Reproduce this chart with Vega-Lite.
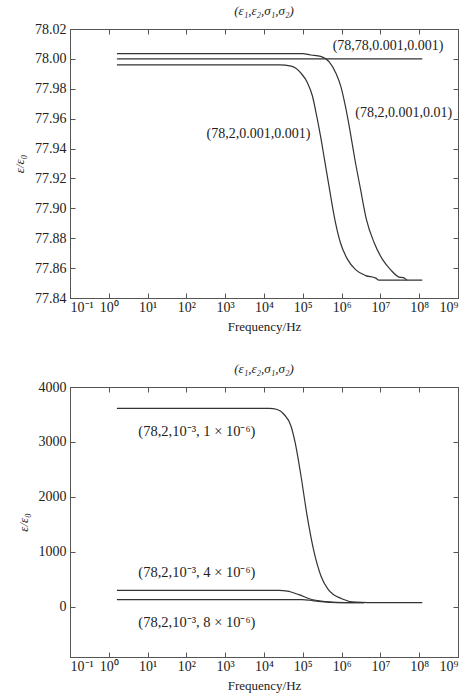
{
  "$schema": "https://vega.github.io/schema/vega-lite/v6.json",
  "background": "white",
  "padding": {"left": 13, "top": 4, "right": 8, "bottom": 4},
  "spacing": 28,
  "config": {
    "font": "Liberation Serif",
    "view": {"stroke": "#555", "strokeWidth": 1},
    "axis": {
      "grid": false,
      "domainColor": "#555",
      "tickColor": "#555",
      "tickSize": -5,
      "labelColor": "#222",
      "labelFont": "Liberation Serif",
      "labelFontSize": 14,
      "titleFont": "Liberation Serif",
      "titleFontWeight": "normal",
      "titleFontSize": 13,
      "titleColor": "#222",
      "labelPadding": 9,
      "titlePadding": 6
    },
    "axisBottom": {"labelPadding": 7},
    "title": {"font": "Liberation Serif", "fontWeight": "normal", "fontSize": 13, "fontStyle": "italic", "color": "#222", "offset": 4}
  },
  "datasets": {
    "top": [
      {"s": "A", "f": 1.62, "e": 78.0},
      {"s": "A", "f": 120000000, "e": 78.0},
      {"s": "B", "f": 1.62, "e": 78.0035},
      {"s": "B", "f": 100000, "e": 78.0035},
      {"s": "B", "f": 158000, "e": 78.0026},
      {"s": "B", "f": 288000, "e": 78.0017},
      {"s": "B", "f": 479000, "e": 77.998},
      {"s": "B", "f": 708000, "e": 77.9906},
      {"s": "B", "f": 955000, "e": 77.9816},
      {"s": "B", "f": 1260000, "e": 77.968},
      {"s": "B", "f": 1620000, "e": 77.953},
      {"s": "B", "f": 2190000, "e": 77.933},
      {"s": "B", "f": 3090000, "e": 77.9125},
      {"s": "B", "f": 4370000, "e": 77.8924},
      {"s": "B", "f": 6920000, "e": 77.877},
      {"s": "B", "f": 11200000, "e": 77.866},
      {"s": "B", "f": 18200000, "e": 77.859},
      {"s": "B", "f": 30200000, "e": 77.854},
      {"s": "B", "f": 40700000, "e": 77.8535},
      {"s": "B", "f": 49000000, "e": 77.852},
      {"s": "B", "f": 120000000, "e": 77.852},
      {"s": "C", "f": 1.62, "e": 77.996},
      {"s": "C", "f": 25000, "e": 77.996},
      {"s": "C", "f": 50000, "e": 77.9952},
      {"s": "C", "f": 89000, "e": 77.9906},
      {"s": "C", "f": 132000, "e": 77.984},
      {"s": "C", "f": 178000, "e": 77.975},
      {"s": "C", "f": 229000, "e": 77.9615},
      {"s": "C", "f": 288000, "e": 77.948},
      {"s": "C", "f": 363000, "e": 77.9326},
      {"s": "C", "f": 490000, "e": 77.9125},
      {"s": "C", "f": 676000, "e": 77.892},
      {"s": "C", "f": 933000, "e": 77.877},
      {"s": "C", "f": 1410000, "e": 77.866},
      {"s": "C", "f": 2290000, "e": 77.859},
      {"s": "C", "f": 4170000, "e": 77.855},
      {"s": "C", "f": 7590000, "e": 77.8533},
      {"s": "C", "f": 9120000, "e": 77.852},
      {"s": "C", "f": 49000000, "e": 77.852}
    ],
    "topLabels": [
      {"label": "(78,78,0.001,0.001)", "f": 15800000, "e": 78.0085},
      {"label": "(78,2,0.001,0.01)", "f": 40000000, "e": 77.9635},
      {"label": "(78,2,0.001,0.001)", "f": 7200, "e": 77.95}
    ],
    "bottom": [
      {"s": "A", "f": 1.62, "e": 3613},
      {"s": "A", "f": 13500, "e": 3613},
      {"s": "A", "f": 22000, "e": 3590},
      {"s": "A", "f": 33000, "e": 3500},
      {"s": "A", "f": 49000, "e": 3300},
      {"s": "A", "f": 63000, "e": 3000},
      {"s": "A", "f": 89000, "e": 2400},
      {"s": "A", "f": 129000, "e": 1660},
      {"s": "A", "f": 195000, "e": 1000},
      {"s": "A", "f": 295000, "e": 560},
      {"s": "A", "f": 450000, "e": 320},
      {"s": "A", "f": 1000000, "e": 150},
      {"s": "A", "f": 2300000, "e": 88},
      {"s": "A", "f": 10000000, "e": 78},
      {"s": "A", "f": 120000000, "e": 78},
      {"s": "B", "f": 1.62, "e": 300},
      {"s": "B", "f": 24500, "e": 300},
      {"s": "B", "f": 40000, "e": 288},
      {"s": "B", "f": 79000, "e": 224},
      {"s": "B", "f": 170000, "e": 135},
      {"s": "B", "f": 390000, "e": 97},
      {"s": "B", "f": 1260000, "e": 80},
      {"s": "B", "f": 3800000, "e": 78},
      {"s": "C", "f": 1.62, "e": 133},
      {"s": "C", "f": 95000, "e": 133},
      {"s": "C", "f": 150000, "e": 122},
      {"s": "C", "f": 250000, "e": 100},
      {"s": "C", "f": 500000, "e": 83},
      {"s": "C", "f": 1260000, "e": 78},
      {"s": "C", "f": 3800000, "e": 78}
    ],
    "bottomLabels": [
      {"label": "(78,2,10⁻³, 1 × 10⁻⁶)", "f": 186, "e": 3180},
      {"label": "(78,2,10⁻³, 4 × 10⁻⁶)", "f": 186, "e": 618},
      {"label": "(78,2,10⁻³, 8 × 10⁻⁶)", "f": 186, "e": -290}
    ]
  },
  "vconcat": [
    {
      "width": 388,
      "height": 269,
      "title": {"text": "(ε₁,ε₂,σ₁,σ₂)"},
      "resolve": {"scale": {"x": "independent", "y": "independent"}},
      "layer": [
        {
          "data": {"name": "top"},
          "mark": {"type": "line", "interpolate": "monotone", "color": "#333", "strokeWidth": 1.2},
          "encoding": {
            "x": {"field": "f", "type": "quantitative", "scale": {"type": "log", "domain": [0.1, 1000000000], "nice": false},
              "axis": {"orient": "bottom", "title": "Frequency/Hz", "values": [0.1, 1, 10, 100, 1000, 10000, 100000, 1000000, 10000000, 100000000, 1000000000],
                "labelExpr": "round(log(datum.value)/LN10) < 0 ? '10⁻¹' : '10' + substring('⁰¹²³⁴⁵⁶⁷⁸⁹', round(log(datum.value)/LN10), round(log(datum.value)/LN10) + 1)"}},
            "y": {"field": "e", "type": "quantitative", "scale": {"domain": [77.84, 78.02], "zero": false, "nice": false},
              "axis": {"orient": "left", "title": "ε/ε₀", "titleFontStyle": "italic", "titlePadding": 8, "format": ".2f", "values": [77.84, 77.86, 77.88, 77.9, 77.92, 77.94, 77.96, 77.98, 78.0, 78.02]}},
            "detail": {"field": "s"}
          }
        },
        {
          "data": {"name": "topLabels"},
          "mark": {"type": "text", "font": "Liberation Serif", "fontSize": 14, "color": "#222"},
          "encoding": {
            "x": {"field": "f", "type": "quantitative", "scale": {"type": "log", "domain": [0.1, 1000000000], "nice": false},
              "axis": {"orient": "top", "labels": false, "title": null, "values": [0.1, 1, 10, 100, 1000, 10000, 100000, 1000000, 10000000, 100000000, 1000000000]}},
            "y": {"field": "e", "type": "quantitative", "scale": {"domain": [77.84, 78.02], "zero": false, "nice": false},
              "axis": {"orient": "right", "labels": false, "title": null, "values": [77.84, 77.86, 77.88, 77.9, 77.92, 77.94, 77.96, 77.98, 78.0, 78.02]}},
            "text": {"field": "label"}
          }
        }
      ]
    },
    {
      "width": 388,
      "height": 270,
      "title": {"text": "(ε₁,ε₂,σ₁,σ₂)"},
      "resolve": {"scale": {"x": "independent", "y": "independent"}},
      "layer": [
        {
          "data": {"name": "bottom"},
          "mark": {"type": "line", "interpolate": "monotone", "color": "#333", "strokeWidth": 1.2},
          "encoding": {
            "x": {"field": "f", "type": "quantitative", "scale": {"type": "log", "domain": [0.1, 1000000000], "nice": false},
              "axis": {"orient": "bottom", "title": "Frequency/Hz", "values": [0.1, 1, 10, 100, 1000, 10000, 100000, 1000000, 10000000, 100000000, 1000000000],
                "labelExpr": "round(log(datum.value)/LN10) < 0 ? '10⁻¹' : '10' + substring('⁰¹²³⁴⁵⁶⁷⁸⁹', round(log(datum.value)/LN10), round(log(datum.value)/LN10) + 1)"}},
            "y": {"field": "e", "type": "quantitative", "scale": {"domain": [-910, 4000], "zero": false, "nice": false},
              "axis": {"orient": "left", "title": "ε/ε₀", "titleFontStyle": "italic", "titlePadding": 8, "format": "d", "values": [0, 1000, 2000, 3000, 4000]}},
            "detail": {"field": "s"}
          }
        },
        {
          "data": {"name": "bottomLabels"},
          "mark": {"type": "text", "font": "Liberation Serif", "fontSize": 14.5, "color": "#222"},
          "encoding": {
            "x": {"field": "f", "type": "quantitative", "scale": {"type": "log", "domain": [0.1, 1000000000], "nice": false},
              "axis": {"orient": "top", "labels": false, "title": null, "values": [0.1, 1, 10, 100, 1000, 10000, 100000, 1000000, 10000000, 100000000, 1000000000]}},
            "y": {"field": "e", "type": "quantitative", "scale": {"domain": [-910, 4000], "zero": false, "nice": false},
              "axis": {"orient": "right", "labels": false, "title": null, "values": [0, 1000, 2000, 3000, 4000]}},
            "text": {"field": "label"}
          }
        }
      ]
    }
  ]
}
